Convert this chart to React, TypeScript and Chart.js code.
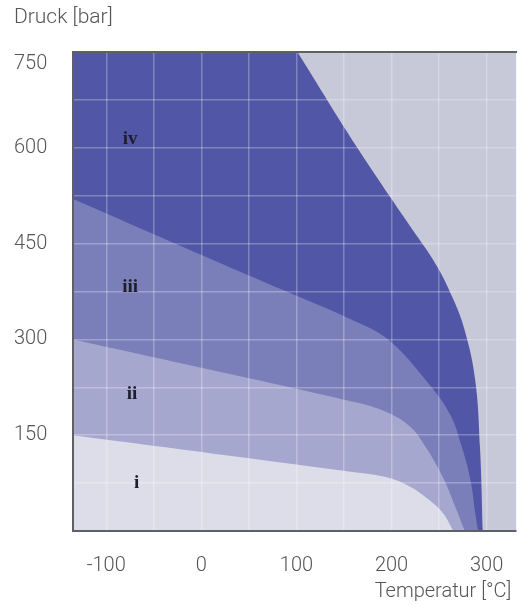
import React, { useEffect, useRef } from "react";
import { Chart, registerables } from "chart.js";

Chart.register(...registerables);

// ---------- data ----------
const tempMin = -135;
const tempMax = 331;
const presMin = 0;
const presMax = 750;

const xLabelValues = [-100, 0, 100, 200, 300];
const yLabelValues = [150, 300, 450, 600, 750];

const regionNames = ["i", "ii", "iii", "iv"];

// upper boundary of each region (temperature °C, pressure bar)
const tempI = [-135, 161, 195, 220, 240, 254, 265];
const presI = [150, 92, 84, 69, 48, 28, 0];

const tempII = [-135, 161, 195, 220, 236, 254, 267, 277];
const presII = [300, 202, 186, 163, 131, 84, 38, 0];

const tempIII = [-135, 50, 171, 200, 236, 261, 274, 283, 288, 291];
const presIII = [520, 400, 322, 295, 236, 184, 131, 80, 28, 0];

const tempIV = [-135, 101, 101, 164, 221, 246, 264, 277, 288, 293, 296];
const presIV = [750, 750, 750, 600, 474, 419, 366, 314, 236, 131, 0];

// region label anchors
const labelTemp = [-68, -73, -75, -75];
const labelPres = [75, 215, 382, 614];

// ---------- styles ----------
const regionColors = ["#dcdde8", "#a5a7cf", "#7b7fb9", "#5156a6"];
const outsideColor = "#c7c8d8";
const textColor = "#555555";
const fontFamily = "Roboto, 'Liberation Sans', sans-serif";

const boundaries = [
  { t: tempI, p: presI },
  { t: tempII, p: presII },
  { t: tempIII, p: presIII },
  { t: tempIV, p: presIV },
];

const backgroundPlugin = {
  id: "areaBackground",
  beforeDatasetsDraw(chart: any) {
    const { ctx, chartArea } = chart;
    ctx.save();
    ctx.fillStyle = outsideColor;
    ctx.fillRect(chartArea.left, chartArea.top, chartArea.width, chartArea.height);
    ctx.restore();
  },
};

const regionTextPlugin = {
  id: "regionText",
  afterDraw(chart: any) {
    const { ctx } = chart;
    const xs = chart.scales.x;
    const ys = chart.scales.y;
    ctx.save();
    ctx.font = "bold 19px 'Liberation Serif', serif";
    ctx.fillStyle = "#1d1d2b";
    ctx.textAlign = "center";
    ctx.textBaseline = "middle";
    regionNames.forEach((name, i) => {
      ctx.fillText(name, xs.getPixelForValue(labelTemp[i]), ys.getPixelForValue(labelPres[i]));
    });
    ctx.restore();
  },
};

export default function App() {
  const ref = useRef<HTMLCanvasElement>(null);

  useEffect(() => {
    if (!ref.current) return;
    const tickFont = { family: fontFamily, size: 20, weight: "300" as any, lineHeight: 1.2 };
    const titleFont = { family: fontFamily, size: 21, weight: "300" as any, lineHeight: 1.2 };
    const gridColor = "rgba(255,255,255,0.28)";
    const borderColor = "#5f5f66";

    const chart = new Chart(ref.current, {
      type: "line",
      data: {
        datasets: boundaries.map((b, i) => ({
          label: regionNames[i],
          data: b.t.map((t, k) => ({ x: t, y: b.p[k] })),
          fill: "origin",
          backgroundColor: regionColors[i],
          borderWidth: 0,
          borderColor: "rgba(0,0,0,0)",
          pointRadius: 0,
          tension: 0.4,
        })),
      },
      options: {
        animation: false,
        responsive: false,
        devicePixelRatio: 1,
        layout: { padding: { left: 14, right: 2, top: 0, bottom: 0 } },
        plugins: {
          legend: { display: false },
          tooltip: { enabled: false },
          title: {
            display: true,
            text: "Druck [bar]",
            align: "start",
            color: textColor,
            font: titleFont,
            padding: { top: 4.9, bottom: 21.9 },
          },
        },
        scales: {
          x: {
            type: "linear",
            position: "bottom",
            min: tempMin,
            max: tempMax,
            afterFit: (scale: any) => {
              scale.height = 74;
            },
            grid: { color: gridColor, lineWidth: 1.5, drawTicks: false, z: 1 },
            border: { display: true, color: borderColor, width: 2, z: 2 },
            ticks: {
              stepSize: 50,
              includeBounds: false,
              autoSkip: false,
              maxRotation: 0,
              padding: 23,
              color: textColor,
              font: tickFont,
              callback: (v: any) => (xLabelValues.includes(Number(v)) ? String(v) : ""),
            },
            title: {
              display: true,
              text: "Temperatur [°C]\u00a0",
              align: "end",
              color: textColor,
              font: tickFont,
              padding: { top: 3, bottom: 1 },
            },
          },
          x2: {
            type: "linear",
            position: "top",
            min: tempMin,
            max: tempMax,
            grid: { display: false, drawTicks: false },
            border: { display: true, color: borderColor, width: 2, z: 2 },
            ticks: { display: false },
          },
          y: {
            type: "linear",
            min: presMin,
            max: presMax,
            grid: { color: gridColor, lineWidth: 1.5, drawTicks: false, z: 1 },
            border: { display: true, color: borderColor, width: 2, z: 2 },
            afterFit: (scale: any) => {
              scale.width = 59;
            },
            ticks: {
              stepSize: 75,
              autoSkip: false,
              crossAlign: "far",
              padding: 25,
              color: textColor,
              font: tickFont,
              callback: (v: any) => {
                const n = Number(v);
                if (!yLabelValues.includes(n)) return "";
                return n === presMax ? ["", String(n)] : String(n);
              },
            },
          },
        },
      } as any,
      plugins: [backgroundPlugin, regionTextPlugin],
    });

    return () => chart.destroy();
  }, []);

  return (
    <div style={{ position: "fixed", left: 0, top: 0, width: 527, height: 605, background: "#ffffff" }}>
      <canvas ref={ref} width={527} height={605} style={{ display: "block", width: 527, height: 605 }} />
    </div>
  );
}
